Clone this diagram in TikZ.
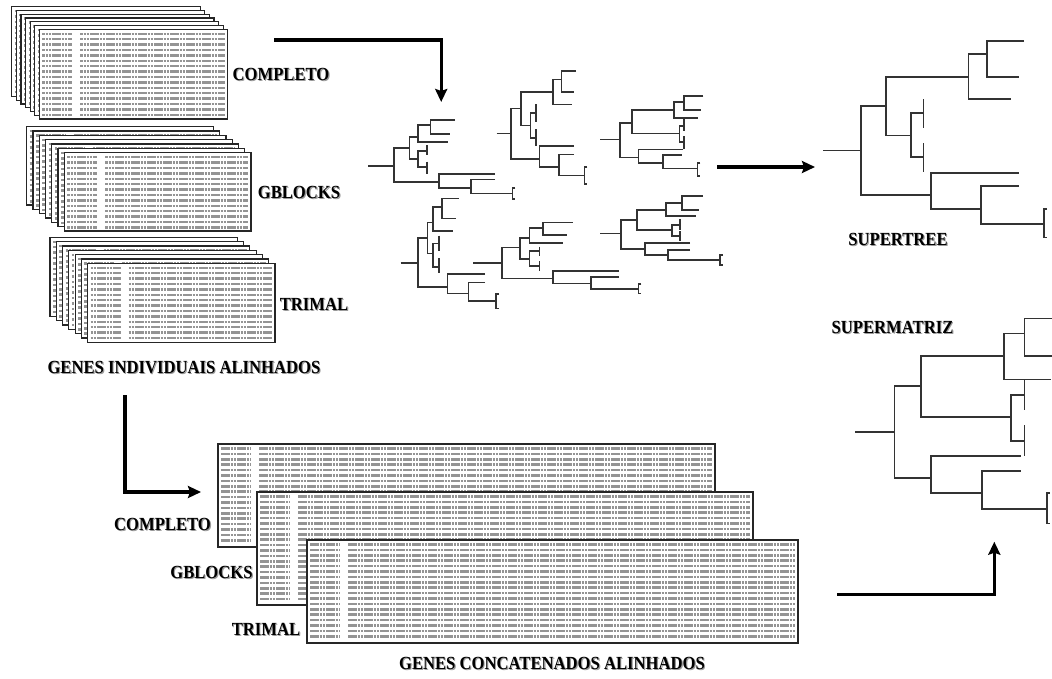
\documentclass[tikz,border=0pt]{standalone}
\usepackage{fontspec}
\setmainfont{Liberation Serif}
\usepackage{graphicx}
\usetikzlibrary{arrows.meta}

% label text with a soft grey shadow
\newcommand{\shd}[1]{\scalebox{0.9}[1]{\rlap{\hspace{1.2pt}\raisebox{-1.2pt}{\textcolor{black!40}{#1}}}#1}}
% one bracket of a cladogram: \clade{x}{y1}{x1}{y2}{x2}
\newcommand{\clade}[5]{\draw[branch] (#3,#2) -| (#1,#4) -- (#5,#4);}
\newcommand{\leaftick}[3]{\draw[branch] (#1,#2) -- (#1,#3);}
\newcommand{\leafbrk}[3]{\draw[branch] (#1+3,#2) -| (#1,#3) -- ++(3,0);}
% one alignment sheet: x, y, width, height
\newcommand{\alnsheet}[4]{%
  \draw[sheet] (#1,#2) rectangle ++(#3,#4);
  \pgfmathtruncatemacro{\nrows}{(#4-8)/5.4}
  \foreach \r in {0,...,\nrows}{
    \draw[seqrow] ({#1+3},{#2+4.5+\r*5.4}) -- ++(30,0);
    \draw[seqrow] ({#1+41},{#2+4.5+\r*5.4}) -- ({#1+#3-3},{#2+4.5+\r*5.4});
  }}

\begin{document}
\begin{tikzpicture}[x=1pt, y=-1pt,
    branch/.style={line width=1.6pt, draw=black!80},
    flow/.style={line width=3.3pt, -{Stealth[length=13pt,width=12pt,inset=2pt]}},
    sheet/.style={draw=black!85, fill=white, line width=1.2pt},
    seqrow/.style={line width=2.5pt, draw=black!42, dash pattern=on 2.6pt off 0.6pt},
    lbl/.style={font=\bfseries\fontsize{18.5}{20}\selectfont, inner sep=0pt}
]
\useasboundingbox (0,0) rectangle (1052,678);

% --- Individual alignments ---
\foreach \i in {0,...,6} {\alnsheet{11.7+4.6*\i}{6.7+3.77*\i}{188.4}{89.7}}
\foreach \i in {0,...,6} {\alnsheet{26.7+6.27*\i}{126.7+4.33*\i}{186.7}{78.3}}
\foreach \i in {0,...,6} {\alnsheet{50+6.28*\i}{237.3+4.33*\i}{187.3}{79}}
\node[lbl] (cmpTop) at (281,75) {\shd{COMPLETO}};
\node[lbl] (gbTop) at (299,193) {\shd{GBLOCKS}};
\node[lbl] (trTop) at (314,305) {\shd{TRIMAL}};
\node[lbl] (indiv) at (184,368) {\shd{GENES INDIVIDUAIS ALINHADOS}};

% --- Concatenated alignments ---
\alnsheet{218}{444}{497}{103}
\alnsheet{257}{492}{496}{113}
\alnsheet{307}{540}{491}{103}
\node[lbl] (cmpBot) at (162.5,525) {\shd{COMPLETO}};
\node[lbl] (gbBot) at (211.5,573) {\shd{GBLOCKS}};
\node[lbl] (trBot) at (266,630) {\shd{TRIMAL}};
\node[lbl] (concat) at (552,664) {\shd{GENES CONCATENADOS ALINHADOS}};

% --- Gene trees ---
% tree A
\draw[branch] (368.3,165.7) -- (394,165.7);
\clade{394}{147.7}{409.3}{182}{439}
\clade{409.3}{136.7}{417.7}{158.7}{417.7}
\clade{417.7}{125}{430.3}{142}{447.7}
\clade{430.3}{120}{455}{133.7}{450}
\clade{417.7}{151}{426.7}{167}{426.7}
\leaftick{426.7}{145}{155} \leaftick{426.7}{161.7}{174}
\clade{439}{174}{495}{187.7}{470.7}
\clade{470.7}{179.3}{495}{193.3}{512.3}
\leafbrk{512.3}{187.7}{199}
% tree B
\draw[branch] (496.7,133.3) -- (511,133.3);
\clade{511}{108.3}{520.7}{158.7}{539.3}
\clade{520.7}{92}{552.7}{125.3}{530.3}
\clade{552.7}{79.3}{561.3}{104.3}{571.7}
\clade{561.3}{71}{576}{92}{574}
\clade{530.3}{112.7}{536}{137.7}{536}
\leaftick{536}{104.3}{121.7} \leaftick{536}{129.3}{146}
\clade{539.3}{146}{574}{167}{558.7}
\clade{558.7}{154.3}{574}{175.3}{584.3}
\leafbrk{584.3}{167}{184}
% tree C
\draw[branch] (600,139.3) -- (620,139.3);
\clade{620}{122.7}{632}{157.3}{638.3}
\clade{632}{110}{674}{133.3}{679.3}
\clade{674}{102}{684}{118}{697.7}
\clade{684}{95.7}{703.3}{110}{701}
\clade{679.3}{126}{684}{141.7}{684}
\leaftick{684}{119.3}{130.7} \leaftick{684}{136}{149}
\clade{638.3}{149.3}{683.3}{162.7}{662.7}
\clade{662.7}{154.7}{681.7}{168.3}{697.3}
\leafbrk{697.3}{162.7}{175.7}
% tree D
\draw[branch] (400.7,262.7) -- (417.7,262.7);
\clade{417.7}{237.7}{427.3}{286.7}{447.3}
\clade{427.3}{222.3}{432.7}{253.3}{432.7}
\clade{432.7}{206.7}{441.7}{230.7}{452.7}
\clade{441.7}{198.3}{458.7}{218.3}{456}
\clade{432.7}{243.3}{439}{266.7}{439}
\leaftick{439}{235.7}{251} \leaftick{439}{258.3}{273.3}
\clade{447.3}{274}{485}{293.3}{468.3}
\clade{468.3}{282.3}{485}{301}{496}
\leafbrk{496}{294}{308.3}
% tree E
\draw[branch] (473.3,262.7) -- (501.7,262.7);
\clade{501.7}{247.3}{520}{278.3}{552.7}
\clade{520}{237.7}{529.3}{258.7}{529.3}
\clade{529.3}{227.7}{542.7}{242.7}{562.7}
\clade{542.7}{222.3}{572.7}{235}{567.3}
\clade{529.3}{250.7}{539.3}{265.7}{539.3}
\leaftick{539.3}{246.7}{256} \leaftick{539.3}{261}{271}
\clade{552.7}{270.7}{619}{283.3}{590.7}
\clade{590.7}{276.7}{619}{289}{638.3}
\leafbrk{638.3}{283.7}{293.3}
% tree F
\draw[branch] (600,233.3) -- (621,233.3);
\clade{621}{220}{636.7}{249}{645}
\clade{636.7}{210}{666}{230}{672}
\clade{666}{203}{682}{216}{696}
\clade{682}{196}{703}{210}{699}
\clade{672}{225}{680}{236}{680}
\leaftick{680}{219}{230} \leaftick{680}{231}{241}
\clade{645}{243}{690}{255}{668}
\clade{668}{250}{690}{260}{720}
\leafbrk{720}{255}{265}

% --- Supertree ---
\draw[branch] (823,150.3) -- (861,150.3);
\clade{861}{106}{886}{194.7}{930.7}
\clade{886}{76.7}{968.3}{135.3}{910.7}
\clade{968.3}{54}{986.7}{99}{1011}
\clade{986.7}{40.7}{1024}{76.7}{1018.7}
\clade{910.7}{112.7}{923.3}{157}{923.3}
\leaftick{923.3}{99}{128.3} \leaftick{923.3}{143.3}{172.3}
\clade{930.7}{172.7}{1018.7}{208.7}{980.7}
\clade{980.7}{186}{1018.7}{224}{1044}
\leafbrk{1044}{208.7}{237.3}
\node[lbl] (stLabel) at (898,240) {\shd{SUPERTREE}};

% --- Supermatrix tree ---
\draw[branch] (855,431.7) -- (894.3,431.7);
\clade{894.3}{386}{921}{477.7}{930.7}
\clade{921}{355.7}{1004}{416.7}{1011}
\clade{1004}{333.3}{1024.3}{379.3}{1050.7}
\clade{1024.3}{318.3}{1052}{355.7}{1052}
\clade{1011}{395}{1024.3}{440.7}{1024.3}
\leaftick{1024.3}{379.3}{410} \leaftick{1024.3}{425}{455.7}
\clade{930.7}{455.7}{1020.7}{493}{981.7}
\clade{981.7}{471}{1020.7}{508.7}{1046.7}
\leafbrk{1046.7}{492.7}{523.3}
\node[lbl] (smLabel) at (892.5,328) {\shd{SUPERMATRIZ}};

% --- Connections ---
\coordinate (indTop) at (274,40);
\coordinate (treesIn) at (441.2,102);
\coordinate (treesOut) at (717,167);
\coordinate (stIn) at (815,167);
\coordinate (indOut) at (125,395);
\coordinate (catIn) at (201,492);
\coordinate (catOut) at (837,594.3);
\coordinate (smIn) at (994.3,541.7);
\draw[flow] (indTop) -| (treesIn);
\draw[flow] (treesOut) -- (stIn);
\draw[flow] (indOut) |- (catIn);
\draw[flow] (catOut) -| (smIn);
\end{tikzpicture}
\end{document}
